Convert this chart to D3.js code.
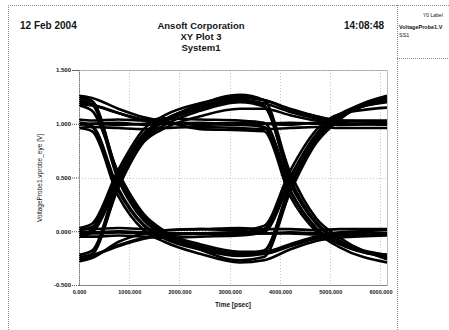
<!DOCTYPE html>
<html><head><meta charset="utf-8">
<script src="https://cdn.jsdelivr.net/npm/d3@7"></script>
<style>
html,body{margin:0;padding:0;background:#fff;}
svg{display:block;}
text{font-family:"Liberation Sans",Arial,sans-serif;fill:#151515;}
</style></head><body>
<svg id="chart" width="449" height="330"></svg>
<script>
// Sample times (psec) shared by every eye trace
const timeKnots = [0, 260, 780, 1290, 1710, 2410, 3200, 3680, 4200, 4720, 5190, 6130];

// Eye traces: voltage at each sample time (V)
const traceA1 = [-0.02, -0.02, -0.01, -0.02, -0.03, -0.02, -0.01, -0.02, -0.02, -0.03, -0.02, -0.02];
const traceA2 = [0.00, -0.01, 0.00, -0.01, -0.02, -0.02, -0.01, 0.02, 0.50, 0.90, 1.08, 1.20];
const traceA3 = [-0.03, 0.01, 0.50, 0.89, 1.02, 1.14, 1.22, 1.17, 0.49, 0.08, -0.09, -0.22];
const traceA4 = [0.01, 0.04, 0.53, 0.91, 1.04, 1.16, 1.22, 1.19, 1.11, 1.05, 1.01, 0.99];
const traceA5 = [1.22, 1.18, 0.48, 0.10, -0.04, -0.15, -0.21, -0.21, -0.14, -0.07, -0.04, -0.02];
const traceA6 = [1.25, 1.21, 0.52, 0.12, -0.03, -0.14, -0.21, -0.18, 0.42, 0.86, 1.06, 1.21];
const traceA7 = [1.18, 1.17, 1.10, 1.04, 1.01, 0.99, 1.00, 0.97, 0.38, 0.03, -0.12, -0.23];
const traceA8 = [1.20, 1.18, 1.10, 1.03, 1.00, 1.00, 1.01, 1.00, 0.99, 1.01, 1.00, 1.00];
const traceB1 = [-0.26, -0.23, -0.14, -0.07, -0.04, -0.02, -0.02, -0.02, -0.01, -0.02, -0.03, -0.02];
const traceB2 = [-0.24, -0.22, -0.13, -0.06, -0.03, -0.02, -0.03, 0.01, 0.50, 0.90, 1.09, 1.22];
const traceB3 = [-0.25, -0.21, 0.42, 0.85, 0.99, 1.12, 1.20, 1.16, 0.48, 0.08, -0.09, -0.23];
const traceB4 = [-0.27, -0.22, 0.40, 0.83, 0.96, 1.07, 1.14, 1.14, 1.08, 1.03, 1.00, 1.01];
const traceB5 = [1.00, 0.97, 0.38, 0.05, -0.07, -0.17, -0.23, -0.21, -0.13, -0.06, -0.03, -0.02];
const traceB6 = [1.01, 0.98, 0.40, 0.06, -0.06, -0.16, -0.22, -0.19, 0.41, 0.85, 1.05, 1.24];
const traceB7 = [0.99, 1.00, 1.01, 0.99, 1.00, 1.01, 0.99, 0.97, 0.38, 0.03, -0.12, -0.22];
const traceB8 = [1.01, 1.00, 0.99, 1.00, 1.01, 1.00, 0.99, 1.00, 1.01, 1.00, 0.99, 1.00];
const traceC1 = [-0.05, -0.01, 0.45, 0.87, 1.03, 1.18, 1.27, 1.22, 0.55, 0.12, -0.06, -0.26];
const traceC2 = [1.17, 1.12, 0.55, 0.16, 0.00, -0.17, -0.27, -0.24, 0.36, 0.82, 1.04, 1.25];
const traceC3 = [1.04, 1.03, 1.04, 1.03, 1.05, 1.04, 1.03, 1.01, 0.44, 0.07, -0.10, -0.24];
const traceC4 = [-0.05, -0.05, -0.04, -0.05, -0.06, -0.05, -0.04, -0.01, 0.45, 0.87, 1.07, 1.26];
const traceC5 = [-0.28, -0.25, -0.10, -0.02, 0.01, 0.02, 0.01, 0.05, 0.56, 0.94, 1.09, 1.15];
const traceC6 = [0.96, 0.93, 0.33, 0.01, -0.10, -0.21, -0.29, -0.27, -0.17, -0.09, -0.06, -0.04];
const traceC7 = [1.26, 1.24, 1.14, 1.06, 1.02, 0.95, 0.94, 0.93, 0.33, 0.00, -0.15, -0.29];
const traceC8 = [-0.22, -0.18, 0.47, 0.90, 1.04, 1.16, 1.24, 1.22, 1.13, 1.07, 1.03, 1.03];
const traceD1 = [1.24, 1.21, 0.53, 0.14, -0.01, -0.12, -0.19, -0.19, -0.12, -0.05, -0.01, 0.01];
const traceD2 = [0.03, 0.07, 0.57, 0.95, 1.08, 1.19, 1.25, 1.22, 1.14, 1.07, 1.03, 1.02];
const traceD3 = [0.02, 0.02, 0.03, 0.02, 0.01, 0.02, 0.03, 0.02, 0.02, 0.01, 0.02, 0.02];
const traceD4 = [0.96, 0.97, 0.96, 0.95, 0.96, 0.97, 0.96, 0.95, 0.96, 0.97, 0.96, 0.96];

const traces = [traceA1, traceA2, traceA3, traceA4, traceA5, traceA6, traceA7, traceA8,
  traceB1, traceB2, traceB3, traceB4, traceB5, traceB6, traceB7, traceB8,
  traceC1, traceC2, traceC3, traceC4, traceC5, traceC6, traceC7, traceC8,
  traceD1, traceD2, traceD3, traceD4];

// Axis ticks
const xTicks = [0, 1000, 2000, 3000, 4000, 5000, 6000];
const yTicks = [-0.5, 0.0, 0.5, 1.0, 1.5];

// Header and legend texts
const headerDate = "12 Feb 2004";
const headerTime = "14:08:48";
const titleLines = ["Ansoft Corporation", "XY Plot 3", "System1"];
const xTitle = "Time [psec]";
const yTitle = "VoltageProbe1.vprobe_eye [V]";
const legendLines = ["Y0 Label", "VoltageProbe1.V", "SS1"];

const svg = d3.select("#chart");
const frame = "#8a8a8a";

// page frame
const g0 = svg.append("g").attr("stroke", frame).attr("stroke-width", 1).attr("stroke-dasharray", "1,1");
g0.append("line").attr("x1", 8).attr("x2", 449).attr("y1", 5.5).attr("y2", 5.5);
g0.append("line").attr("x1", 8.5).attr("x2", 8.5).attr("y1", 5).attr("y2", 330);
g0.append("line").attr("x1", 397.5).attr("x2", 397.5).attr("y1", 5).attr("y2", 330);
g0.append("line").attr("x1", 397).attr("x2", 449).attr("y1", 58.5).attr("y2", 58.5);

// header
svg.append("text").attr("x", 20).attr("y", 29).attr("font-size", 10).attr("font-weight", "bold").text(headerDate);
svg.append("text").attr("x", 384).attr("y", 29).attr("text-anchor", "end").attr("font-size", 10).attr("font-weight", "bold").text(headerTime);
titleLines.forEach((t, i) => {
  svg.append("text").attr("x", 201).attr("y", 29 + i * 11).attr("text-anchor", "middle")
    .attr("font-size", 9.5).attr("font-weight", "bold").text(t);
});

// legend panel
svg.append("text").attr("x", 423).attr("y", 17).attr("font-size", 5).text(legendLines[0]);
svg.append("text").attr("x", 399).attr("y", 29).attr("font-size", 5.5).attr("font-weight", "bold").text(legendLines[1]);
svg.append("text").attr("x", 399).attr("y", 37).attr("font-size", 5.5).text(legendLines[2]);

// scales
const x = d3.scaleLinear().domain([0, 6130]).range([79, 387]);
const y = d3.scaleLinear().domain([-0.5, 1.5]).range([285, 70]);

// grid
const grid = svg.append("g").attr("stroke", "#c4c4c4").attr("stroke-width", 1).attr("stroke-dasharray", "1,2");
grid.selectAll(".gx").data(xTicks).join("line")
  .attr("x1", d => Math.round(x(d)) + 0.5).attr("x2", d => Math.round(x(d)) + 0.5)
  .attr("y1", y(1.5)).attr("y2", y(-0.5));
grid.selectAll(".gy").data(yTicks).join("line")
  .attr("x1", x(0)).attr("x2", x(6130))
  .attr("y1", d => Math.round(y(d)) + 0.5).attr("y2", d => Math.round(y(d)) + 0.5);

// plot border
const bd = svg.append("g").attr("stroke", "#7a7a7a").attr("stroke-dasharray", "1,1").attr("fill", "none");
bd.append("rect").attr("x", 79.5).attr("y", 70.5).attr("width", 308).attr("height", 215);

// eye traces
svg.append("clipPath").attr("id", "clip").append("rect").attr("x", 79).attr("y", 70).attr("width", 308).attr("height", 215);
const line = d3.line().x((d, i) => x(timeKnots[i])).y(d => y(d)).curve(d3.curveMonotoneX);
svg.append("g").attr("clip-path", "url(#clip)")
  .selectAll("path").data(traces).join("path")
  .attr("d", line).attr("fill", "none").attr("stroke", "#000").attr("stroke-width", 2.6)
  .attr("stroke-linejoin", "round");

// axes
const fmt = d => d3.format(".3f")(d).replace("\u2212", "-");
const ax = svg.append("g").attr("transform", "translate(0,285)")
  .call(d3.axisBottom(x).tickValues(xTicks).tickFormat(fmt).tickSize(0).tickPadding(5));
ax.select(".domain").attr("stroke", "#555").attr("stroke-dasharray", "1,1");
ax.selectAll("text").attr("font-size", 5.5).attr("font-weight", "bold").attr("font-family", "Liberation Sans");

const ay = svg.append("g").attr("transform", "translate(79,0)")
  .call(d3.axisLeft(y).tickValues(yTicks).tickFormat(fmt).tickSize(7).tickPadding(1));
ay.select(".domain").attr("stroke", "#777").attr("stroke-dasharray", "1,1");
ay.selectAll(".tick line").attr("stroke", "#555").attr("stroke-dasharray", "1,1");
ay.selectAll("text").attr("font-size", 6).attr("font-weight", "bold").attr("font-family", "Liberation Sans");

// axis titles
svg.append("text").attr("x", 233).attr("y", 307).attr("text-anchor", "middle")
  .attr("font-size", 6.5).attr("font-weight", "bold").text(xTitle);
svg.append("text").attr("transform", "translate(42,178) rotate(-90)").attr("text-anchor", "middle")
  .attr("font-size", 6.5).text(yTitle);
</script>
</body></html>
